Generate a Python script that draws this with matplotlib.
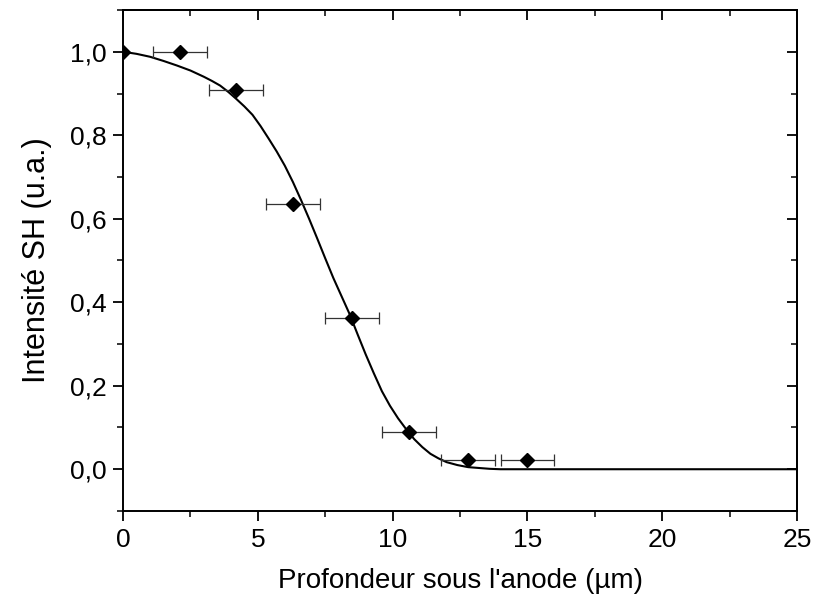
import matplotlib
matplotlib.use("Agg")
import matplotlib.pyplot as plt
from matplotlib.ticker import MultipleLocator, FuncFormatter

plt.rcParams['font.family'] = ['Liberation Sans', 'DejaVu Sans']

# Measured points
depth = [0.0, 2.1, 4.2, 6.3, 8.5, 10.6, 12.8, 15.0]
intensity = [1.0, 1.0, 0.908, 0.636, 0.363, 0.089, 0.022, 0.022]
depth_err = [0.0, 1.0, 1.0, 1.0, 1.0, 1.0, 1.0, 1.0]

# Fit curve
curve_x = [0.0, 0.5, 1.0, 1.5, 2.0, 2.5, 3.0, 3.3, 3.6, 3.9, 4.2, 4.5, 4.8, 5.1, 5.4,
           5.7, 6.0, 6.3, 6.6, 6.9, 7.2, 7.5, 7.8, 8.1, 8.4, 8.7, 9.0, 9.3, 9.6,
           9.9, 10.2, 10.5, 10.8, 11.1, 11.4, 11.7, 12.0, 12.4, 12.8, 13.2, 13.6,
           14.0, 25.0]
curve_y = [1.0, 0.995, 0.988, 0.978, 0.967, 0.955, 0.94, 0.93, 0.919, 0.904, 0.887,
           0.869, 0.849, 0.822, 0.792, 0.761, 0.727, 0.688, 0.645, 0.600, 0.553,
           0.505, 0.458, 0.415, 0.372, 0.323, 0.275, 0.230, 0.187, 0.152, 0.122,
           0.096, 0.072, 0.053, 0.037, 0.026, 0.017, 0.010, 0.005, 0.003, 0.001,
           0.0, 0.0]

fig = plt.figure(figsize=(8.15, 6.03), dpi=100)
ax = fig.add_axes([0.151, 0.1526, 0.827, 0.8308])

ax.plot(curve_x, curve_y, color='black', lw=1.5, zorder=2)

ex = [d for d, e in zip(depth, depth_err) if e > 0]
ey = [v for v, e in zip(intensity, depth_err) if e > 0]
ee = [e for e in depth_err if e > 0]
ax.errorbar(ex, ey, xerr=ee, fmt='none', ecolor='#333333', elinewidth=0.9,
            capsize=4, capthick=0.9, zorder=3)
ax.plot(depth, intensity, linestyle='none', marker='D', markersize=7,
        color='black', zorder=4)

ax.set_xlim(0, 25)
ax.set_ylim(-0.1, 1.1)
ax.xaxis.set_major_locator(MultipleLocator(5))
ax.xaxis.set_minor_locator(MultipleLocator(2.5))
ax.yaxis.set_major_locator(MultipleLocator(0.2))
ax.yaxis.set_minor_locator(MultipleLocator(0.1))
ax.yaxis.set_major_formatter(FuncFormatter(lambda v, p: f"{v:.1f}".replace('.', ',').replace('-0,0', '0,0')))

for s in ax.spines.values():
    s.set_linewidth(1.4)

ax.tick_params(which='major', direction='out', length=7, width=1.3, labelsize=19, pad=5)
ax.tick_params(which='minor', direction='out', length=4, width=1.1)

top = ax.secondary_xaxis('top')
top.xaxis.set_major_locator(MultipleLocator(5))
top.xaxis.set_minor_locator(MultipleLocator(2.5))
top.tick_params(which='major', direction='in', length=7, width=1.3, labeltop=False)
top.tick_params(which='minor', direction='in', length=4, width=1.1)
top.spines['top'].set_linewidth(1.4)

right = ax.secondary_yaxis('right')
right.yaxis.set_major_locator(MultipleLocator(0.2))
right.yaxis.set_minor_locator(MultipleLocator(0.1))
right.tick_params(which='major', direction='in', length=7, width=1.3, labelright=False)
right.tick_params(which='minor', direction='in', length=4, width=1.1)
right.spines['right'].set_linewidth(1.4)

ax.set_xlabel("Profondeur sous l'anode (µm)", fontsize=20, labelpad=12)
ax.set_ylabel("Intensité SH (u.a.)", fontsize=22, labelpad=13)

fig.savefig("out.png", dpi=100)
